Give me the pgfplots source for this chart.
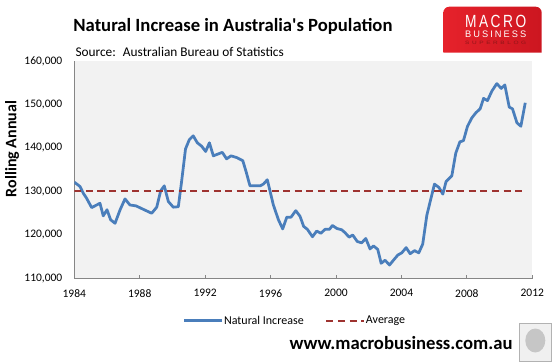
\documentclass[border=0pt]{standalone}
\usepackage{fontspec}
\setmainfont{Carlito}[Ligatures=TeXOff]
\newfontfamily\logofont{Liberation Sans}
\usepackage{graphicx}
\usepackage{pgfplots}
\pgfplotsset{compat=1.18}
\definecolor{lineblue}{HTML}{4A7EBB}
\definecolor{avgred}{HTML}{9E3330}
\definecolor{axgray}{HTML}{868686}
\definecolor{plotbg}{HTML}{F2F2F2}
\definecolor{logored}{HTML}{E6222B}
\definecolor{logoredd}{HTML}{CC1620}
\definecolor{logodark}{HTML}{8E1518}
\begin{document}
\begin{tikzpicture}[x=1pt,y=1pt]
\path[use as bounding box] (-74.3,-83.5) rectangle (479.7,278.5);
\begin{axis}[
  at={(0,0)}, anchor=south west,
  scale only axis, width=458pt, height=217.5pt,
  xmin=1984, xmax=2012, ymin=110000, ymax=160000,
  axis x line*=bottom, axis y line*=left,
  axis line style={draw=axgray, line width=0.8pt, -},
  axis background/.style={fill=plotbg},
  xtick={1984,1988,...,2012},
  ytick={110000,120000,...,160000},
  x tick label style={/pgf/number format/1000 sep={}},
  y tick label style={/pgf/number format/fixed, /pgf/number format/1000 sep={,}},
  scaled y ticks=false,
  /pgf/number format/assume math mode=true,
  tick label style={font=\fontsize{11.5}{12}\selectfont, text=black},
  yticklabel style={anchor=east, inner sep=0pt, xshift=-11.8pt},
  xticklabel style={anchor=north, inner sep=0pt, yshift=-10.8pt},
  tick align=inside,
  ytick style={draw=none},
  xtick style={draw=axgray, line width=0.8pt},
  major tick length=3.7pt,
  legend columns=2,
  legend style={at={(axis description cs:0.2369,-0.194)}, anchor=west,
    draw=none, fill=none, inner sep=0pt, outer sep=0pt,
    font=\fontsize{12}{14}\selectfont,
    nodes={inner sep=0.5pt},
    /tikz/every even column/.append style={column sep=21pt}},
  legend image code/.code={\draw[#1] (0pt,0pt) -- (38pt,0pt);},
]
\addplot[color=lineblue, line width=2.75pt, line join=round] coordinates {
(1984.0,132150) (1984.35,131150) (1984.55,129600) (1984.75,128460)
(1985.06,126300) (1985.57,127300) (1985.77,124400) (1986.0,125800)
(1986.22,123500) (1986.49,122700) (1986.8,125800) (1987.1,128300)
(1987.4,126900) (1987.77,126700) (1988.22,125900) (1988.73,125000)
(1989.04,126400) (1989.28,130150) (1989.5,131300) (1989.75,127700)
(1990.05,126400) (1990.36,126500) (1990.56,132300) (1990.8,139800)
(1991.03,141900) (1991.27,142800) (1991.52,141200) (1991.79,140400)
(1992.03,139200) (1992.26,141200) (1992.5,138200) (1993.05,139000)
(1993.31,137500) (1993.58,138200) (1993.93,137800) (1994.3,137100)
(1994.5,134600) (1994.74,131300) (1995.36,131300) (1995.56,131700)
(1995.8,132700) (1996.17,126900) (1996.48,123500) (1996.74,121400)
(1996.99,124100) (1997.25,124100) (1997.54,125600) (1997.8,124300)
(1998.02,122000) (1998.25,121300) (1998.56,119600) (1998.82,120900)
(1999.07,120400) (1999.33,121300) (1999.6,121300) (1999.78,122200)
(2000.05,121500) (2000.35,121200) (2000.56,120500) (2000.8,119500)
(2001.02,120000) (2001.3,118500) (2001.57,118200) (2001.82,119200)
(2002.08,116800) (2002.29,117500) (2002.55,116700) (2002.76,113500)
(2003.0,114200) (2003.27,113100) (2003.51,114200) (2003.78,115400)
(2004.02,115900) (2004.29,117100) (2004.53,115700) (2004.8,116400)
(2005.06,115900) (2005.3,117900) (2005.55,124500) (2005.79,128200)
(2006.02,131700) (2006.3,130900) (2006.53,129400) (2006.73,132300)
(2007.08,133600) (2007.32,138800) (2007.57,141400) (2007.79,141700)
(2008.04,145000) (2008.3,146900) (2008.55,148100) (2008.81,149000)
(2009.02,151400) (2009.26,150900) (2009.53,153100) (2009.83,154800)
(2010.1,153700) (2010.32,154500) (2010.59,149400) (2010.79,149000)
(2011.06,145800) (2011.3,145000) (2011.57,150400)
};
\addlegendentry{Natural Increase}
\addplot[color=avgred, line width=2.25pt, dash pattern=on 7pt off 4.6pt] coordinates {
(1984.0,130100) (2011.57,130100)
};
\addlegendentry{Average}
\end{axis}
% title and source
\node[anchor=base west, inner sep=0pt, font=\fontsize{18.67}{22}\selectfont\bfseries] at (-1.1,246.7) {Natural Increase in Australia's Population};
\node[anchor=base west, inner sep=0pt, font=\fontsize{13.33}{15}\selectfont] at (1,222) {Source:~ Australian Bureau of Statistics};
% y label
\node[rotate=90, inner sep=0pt, font=\fontsize{16}{18}\selectfont\bfseries] at (-62.3,129.5) {Rolling Annual};
% logo
\shade[left color=logored, right color=logoredd, rounded corners=6pt] (369,225.8) -- (369,271.8) -- (467.4,271.8) [sharp corners] -- (467.4,225.8) -- cycle;
\node[anchor=base west, inner sep=0pt, text=white] at (390.7,251.2) {\resizebox{61pt}{12.3pt}{\logofont\addfontfeature{LetterSpace=18}MACRO}};
\node[anchor=base west, inner sep=0pt, text=white] at (390.7,241.2) {\resizebox{61pt}{6.6pt}{\logofont\addfontfeature{LetterSpace=22}BUSINESS}};
\node[anchor=base west, inner sep=0pt, text=logodark] at (390.7,234.2) {\resizebox{61pt}{3.3pt}{\logofont\addfontfeature{LetterSpace=40}SUPERBLOG}};
% footer
\node[anchor=base west, inner sep=0pt, font=\fontsize{18.67}{22}\selectfont\bfseries] at (215,-70.5) {www.macrobusiness.com.au};
\fill[gray!12, draw=gray!60, line width=0.8pt] (445.5,-83) rectangle (477,-45);
\fill[gray!45] (461,-62) ellipse (10 and 12);
\end{tikzpicture}
\end{document}
